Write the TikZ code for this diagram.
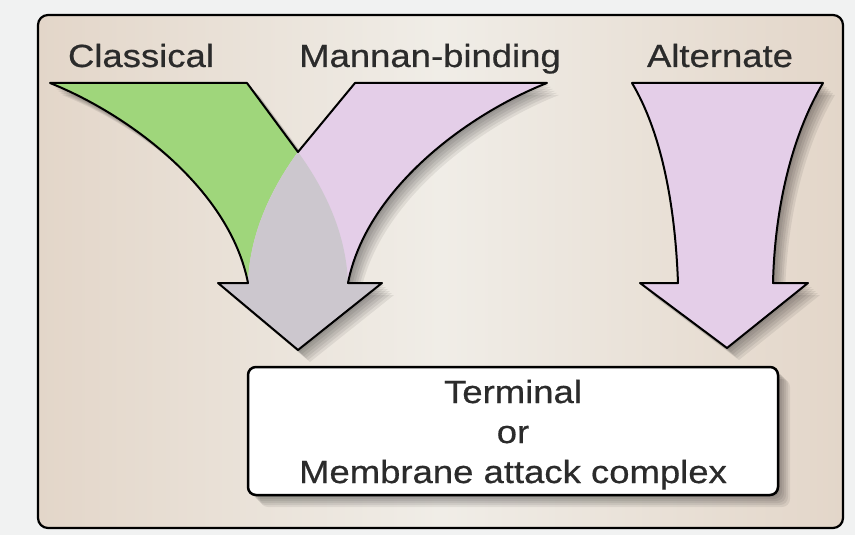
\documentclass[tikz,border=0pt]{standalone}
\usepackage{fontspec}
\setmainfont{Liberation Sans}[FakeStretch=1.14, FakeBold=0.6]
\usetikzlibrary{backgrounds,calc,positioning}

\definecolor{classicgreen}{HTML}{9FD67B}
\definecolor{mbpurple}{HTML}{E4CEE8}
\definecolor{mixgray}{HTML}{CCC7CE}
\definecolor{paneltan}{HTML}{E3D6C9}
\definecolor{panellight}{HTML}{F0EDE7}
\definecolor{pagegray}{HTML}{F1F2F2}
\definecolor{inktext}{HTML}{2B2B2B}

\begin{document}
\begin{tikzpicture}[x=1pt, y=-1pt,
  pathlabel/.style={font=\fontsize{32}{40}\selectfont, text=inktext, anchor=base},
  macbox/.style={draw=black, line width=2.5pt, fill=white, rounded corners=8pt,
    minimum width=530pt, minimum height=128pt, align=center,
    font=\fontsize{32}{40}\selectfont, text=inktext},
  outline/.style={draw=black, line width=2pt, line join=round},
  shadelayer/.style={fill=black, opacity=0.07}]

  \useasboundingbox (0,0) rectangle (855,535);
  \fill[pagegray] (0,0) rectangle (855,535);

  % panel
  \draw[line width=2.2pt, rounded corners=10pt, left color=paneltan, right color=paneltan,
    middle color=panellight] (38,15) rectangle (843,528);

  % pathway names
  \node[pathlabel] (classical) at (141,67) {Classical};
  \node[pathlabel] (mannan) at (430,67) {Mannan-binding};
  \node[pathlabel] (alternate) at (720,67) {Alternate};

  % soft shadows
  \foreach \d in {2,4,...,12} {
    \fill[shadelayer, xshift=\d, yshift=-\d] (50,83) -- (247,83) -- (298,152) -- (355,83) -- (547,83)
      .. controls (466,115) and (366,190) .. (348,283) -- (382,283) -- (298,350) -- (218,283)
      -- (248,283) .. controls (230,190) and (130,115) .. (50,83) -- cycle;
    \fill[shadelayer, xshift=\d, yshift=-\d] (632,83) -- (823,83) .. controls (795,130) and (775,200) .. (773,283)
      -- (808,283) -- (727,348) -- (640,283) -- (678,283) .. controls (675,200) and (660,130) .. (632,83) -- cycle;
    \fill[shadelayer, rounded corners=8pt, xshift=\d, yshift=-\d] (248,367) rectangle (778,495);
  }

  % classical + mannan-binding
  \fill[classicgreen] (50,83) -- (247,83) -- (298,152) .. controls (322,185) and (346,230) .. (348,283)
    -- (248,283) .. controls (230,190) and (130,115) .. (50,83) -- cycle;
  \fill[mbpurple] (547,83) -- (355,83) -- (298,152) .. controls (274,185) and (250,230) .. (248,283)
    -- (348,283) .. controls (366,190) and (466,115) .. (547,83) -- cycle;
  \begin{scope}
    \clip (50,83) -- (247,83) -- (298,152) .. controls (322,185) and (346,230) .. (348,283)
      -- (248,283) .. controls (230,190) and (130,115) .. (50,83) -- cycle;
    \fill[mixgray] (547,83) -- (355,83) -- (298,152) .. controls (274,185) and (250,230) .. (248,283)
      -- (348,283) .. controls (366,190) and (466,115) .. (547,83) -- cycle;
  \end{scope}
  \fill[mixgray] (248,283) -- (218,283) -- (298,350) -- (382,283) -- (348,283) -- cycle;
  \draw[outline] (248,283) .. controls (230,190) and (130,115) .. (50,83) -- (247,83) -- (298,152)
    -- (355,83) -- (547,83) .. controls (466,115) and (366,190) .. (348,283) -- (382,283)
    -- (298,350) -- (218,283) -- cycle;

  % alternate
  \path[outline, fill=mbpurple] (632,83) -- (823,83) .. controls (795,130) and (775,200) .. (773,283)
    -- (808,283) -- (727,348) -- (640,283) -- (678,283) .. controls (675,200) and (660,130) .. (632,83) -- cycle;

  % terminal pathway
  \node[macbox] (mac) at (513,431) {\raisebox{-4pt}[\height][\depth]{\begin{tabular}{@{}c@{}}Terminal\\or\\Membrane attack complex\end{tabular}}};
\end{tikzpicture}
\end{document}
